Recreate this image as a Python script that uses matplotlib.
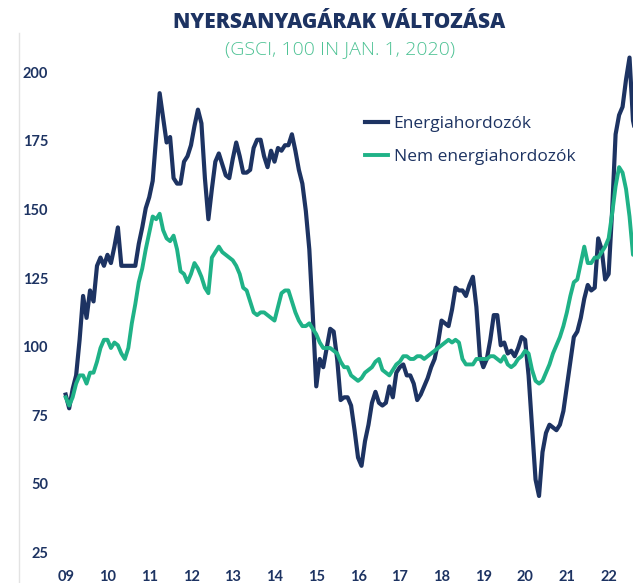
import numpy as np
import matplotlib
matplotlib.use('Agg')
import matplotlib.pyplot as plt
from matplotlib.lines import Line2D

# havi adatok, 2009 január -> 2022 szeptember (GSCI, 100 = 2020.01.01)
years = ['09', '10', '11', '12', '13', '14', '15', '16', '17', '18', '19', '20', '21', '22']
y_ticks = [25, 50, 75, 100, 125, 150, 175, 200]

energia = [
    83, 78, 85, 90, 103, 119, 111, 121, 117, 130, 133, 130,      # 2009
    134, 131, 137, 144, 130, 130, 130, 130, 130, 138, 144, 151,  # 2010
    155, 161, 177, 193, 184, 175, 177, 162, 160, 160, 168, 170,  # 2011
    174, 181, 187, 182, 162, 147, 158, 168, 171, 167, 163, 162,  # 2012
    169, 175, 170, 164, 164, 165, 173, 176, 176, 170, 166, 172,  # 2013
    168, 173, 172, 174, 174, 178, 172, 165, 160, 150, 136, 112,  # 2014
    86, 96, 93, 100, 107, 106, 96, 81, 82, 82, 79, 70,           # 2015
    60, 57, 66, 72, 80, 84, 80, 79, 80, 86, 82, 91,              # 2016
    93, 94, 90, 90, 87, 81, 83, 86, 89, 93, 96, 102,             # 2017
    110, 109, 108, 114, 122, 121, 121, 119, 123, 126, 115, 97,   # 2018
    93, 96, 103, 112, 112, 101, 102, 98, 99, 97, 100, 104,       # 2019
    103, 90, 71, 52, 46, 62, 69, 72, 71, 70, 72, 77,             # 2020
    86, 95, 104, 106, 111, 118, 123, 121, 122, 140, 136, 125,    # 2021
    127, 150, 178, 185, 188, 198, 206, 183, 177,                 # 2022
]

nem_energia = [
    82, 79, 82, 87, 90, 90, 87, 91, 91, 95, 100, 103,
    103, 100, 102, 101, 98, 96, 100, 109, 116, 124, 129, 136,
    142, 148, 147, 149, 143, 140, 139, 141, 136, 128, 127, 124,
    127, 131, 129, 126, 122, 120, 133, 135, 137, 135, 134, 133,
    132, 130, 127, 122, 121, 117, 113, 112, 113, 113, 112, 111,
    110, 115, 120, 121, 121, 117, 113, 110, 108, 108, 109, 107,
    105, 102, 100, 100, 100, 99, 98, 95, 93, 93, 90, 89,
    88, 89, 91, 92, 93, 95, 96, 92, 91, 90, 92, 94,
    95, 97, 97, 96, 96, 97, 97, 96, 97, 98, 99, 100,
    101, 102, 103, 102, 103, 102, 96, 94, 94, 94, 96, 96,
    96, 96, 97, 97, 96, 95, 97, 94, 93, 94, 96, 97,
    99, 98, 92, 88, 87, 88, 91, 94, 98, 101, 104, 108,
    113, 119, 124, 125, 131, 137, 131, 131, 133, 133, 135, 137,
    140, 149, 159, 166, 164, 158, 148, 134, 137,
]

NAVY = '#1d3362'
GREEN = '#1fb287'
SUB_GREEN = '#4dc294'
W, H = 633, 583

fig = plt.figure(figsize=(W / 100, H / 100), dpi=100)
# tengely: bal szél 18px, jobb szél a kép széle
ax = fig.add_axes([18 / W, 1 - 567.2 / H, 615 / W, (567.2 - 46.6) / H])
months = np.arange(len(energia))
ax.plot(months, energia, color=NAVY, lw=3.0, solid_joinstyle='round', label='Energiahordozók')
ax.plot(months, nem_energia, color=GREEN, lw=2.8, solid_joinstyle='round', label='Nem energiahordozók')
ax.set_xlim(-13.7, 163.0)
ax.set_ylim(20, 210)
ax.set_axis_off()

# halvány bal oldali vonal
fig.add_artist(Line2D([18.5 / W, 18.5 / W], [0, 1 - 33 / H], color='#e3e3e3', lw=1))

for v in y_ticks:
    ax.text(0.0488, v, str(v), transform=ax.get_yaxis_transform(), ha='right', va='center',
            fontsize=10.5, fontweight='bold', color=NAVY, family='Lato')
for k, lab in enumerate(years):
    ax.text(12 * k, -0.0188, lab, transform=ax.get_xaxis_transform(), ha='center', va='center',
            fontsize=10.5, fontweight='bold', color=NAVY, family='Lato', clip_on=False)

fig.text(339 / W, 1 - 23 / H, 'NYERSANYAGÁRAK VÁLTOZÁSA', ha='center', va='center',
         fontsize=15, fontweight='heavy', color=NAVY, family='Open Sans')
fig.text(340 / W, 1 - 49 / H, '(GSCI, 100 IN JAN. 1, 2020)', ha='center', va='center',
         fontsize=14, fontweight='light', color=SUB_GREEN, family='Open Sans')

ax.legend(loc='upper left', bbox_to_anchor=(365 / W, 1 - 116 / H), bbox_transform=fig.transFigure,
          frameon=False, borderpad=0, borderaxespad=0, handlelength=1.35, handletextpad=0.3,
          labelspacing=0.95, prop={'family': 'Open Sans', 'size': 12.5}, labelcolor=NAVY)

fig.savefig('out.png', dpi=100)
